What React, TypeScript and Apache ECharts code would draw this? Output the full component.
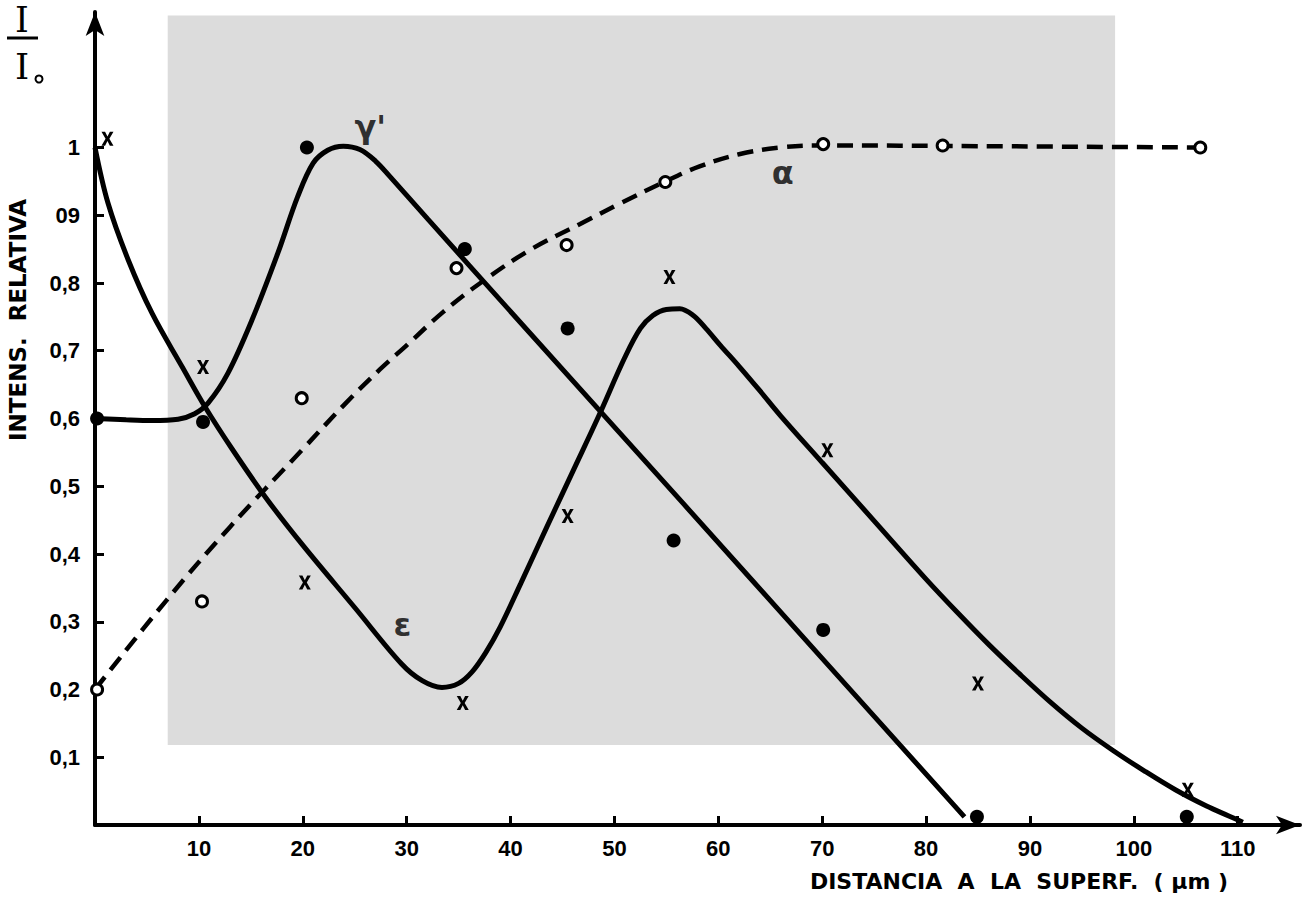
import React, { useEffect, useRef } from 'react';
import * as echarts from 'echarts';

// ---- tick values / labels ----
const xTicks = [10, 20, 30, 40, 50, 60, 70, 80, 90, 100, 110];
const xTickLabels = ['10', '20', '30', '40', '50', '60', '70', '80', '90', '100', '110'];
const yTicks = [0.1, 0.2, 0.3, 0.4, 0.5, 0.6, 0.7, 0.8, 0.9, 1.0];
const yTickLabels = ['0,1', '0,2', '0,3', '0,4', '0,5', '0,6', '0,7', '0,8', '09', '1'];

// ---- fitted curves ----
const epsCurve: number[][] = [
  [0, 1.0], [1.25, 0.918], [3.2, 0.834], [5.5, 0.755], [8.4, 0.676], [10.6, 0.617],
  [13.2, 0.555], [16.5, 0.482], [20.0, 0.413], [25.0, 0.321], [29.5, 0.238],
  [31.5, 0.213], [33.4, 0.203], [35.0, 0.209], [36.3, 0.226], [37.6, 0.254],
  [39.0, 0.292], [41.0, 0.357], [43.5, 0.44], [46.0, 0.522], [48.5, 0.604],
  [51.0, 0.69], [52.5, 0.733], [53.7, 0.752], [55.0, 0.761], [56.3, 0.762],
  [57.6, 0.752], [58.8, 0.733], [60.2, 0.708], [62.0, 0.677], [64.0, 0.641],
  [66.0, 0.604], [70.0, 0.535], [75.0, 0.449], [80.0, 0.363], [83.0, 0.314],
  [86.0, 0.267], [89.0, 0.223], [92.0, 0.181], [95.0, 0.143], [98.0, 0.11],
  [101.0, 0.08], [104.0, 0.052], [107.0, 0.028], [109.2, 0.013], [110.5, 0.004],
];
const gammaCurve: number[][] = [
  [0, 0.6], [3.0, 0.598], [5.5, 0.597], [8.0, 0.599], [9.6, 0.607], [10.9, 0.623],
  [12.8, 0.667], [15.1, 0.745], [17.6, 0.844], [19.5, 0.927], [21.0, 0.977],
  [22.4, 0.996], [23.9, 1.002], [25.5, 0.997], [27.0, 0.98], [28.4, 0.957],
  [32.0, 0.895], [40.0, 0.758], [56.6, 0.475], [70.0, 0.246], [83.7, 0.012],
];
const alphaCurve: number[][] = [
  [0, 0.2], [6.9, 0.332], [13.0, 0.44], [19.9, 0.553], [24.1, 0.622], [27.4, 0.672],
  [30.0, 0.708], [33.5, 0.757], [37.1, 0.8], [42.0, 0.85], [46.7, 0.887],
  [50.5, 0.917], [54.9, 0.95], [58.2, 0.972], [62.0, 0.99], [66.0, 1.0],
  [70.0, 1.003], [85.0, 1.002], [106.4, 1.0],
];

// ---- measured points ----
const gammaPoints: number[][] = [
  [0.2, 0.6], [10.4, 0.595], [20.4, 1.0], [35.6, 0.85], [45.5, 0.733],
  [55.7, 0.42], [70.1, 0.288], [84.9, 0.012], [105.1, 0.012],
];
const epsPoints: number[][] = [
  [1.2, 1.013], [10.4, 0.676], [20.2, 0.358], [35.4, 0.18], [45.5, 0.456],
  [55.3, 0.809], [70.5, 0.553], [85.0, 0.209], [105.2, 0.052],
];
const alphaPoints: number[][] = [
  [0.2, 0.2], [10.3, 0.33], [19.9, 0.63], [34.8, 0.822], [45.4, 0.856],
  [54.9, 0.949], [70.1, 1.005], [81.6, 1.003], [106.4, 1.0],
];

// ---- curve labels ----
const curveLabels = [
  { name: "γ'", value: [26.5, 1.03] },
  { name: 'ε', value: [29.6, 0.295] },
  { name: 'α', value: [66.2, 0.963] },
];

const crossPath =
  'path://M0,0 L3,0 L5,3.4 L7,0 L10,0 L6.6,5 L10,10 L7,10 L5,6.6 L3,10 L0,10 L3.4,5 Z';

const FONT = '"DejaVu Sans", "Liberation Sans", sans-serif';
const TICK_FONT = '"Liberation Sans", Arial, sans-serif';
const SERIF = '"DejaVu Serif", "Liberation Serif", serif';

export default function App() {
  const ref = useRef<HTMLDivElement>(null);

  useEffect(() => {
    if (!ref.current) return;
    const chart = echarts.init(ref.current, null, { renderer: 'svg' });

    const option: any = {
      animation: false,
      backgroundColor: '#ffffff',
      grid: { left: 95, right: 14, top: 12, bottom: 73, containLabel: false },
      xAxis: {
        type: 'value',
        min: 0,
        max: 116,
        splitLine: { show: false },
        axisLine: {
          show: true,
          symbol: ['none', 'arrow'],
          symbolSize: [14, 24],
          lineStyle: { color: '#000', width: 4 },
        },
        axisTick: {
          show: true,
          inside: true,
          length: 9,
          customValues: xTicks,
          lineStyle: { color: '#000', width: 3 },
        },
        axisLabel: {
          show: true,
          customValues: xTicks,
          formatter: (v: number) => {
            const i = xTicks.findIndex((t) => Math.abs(t - v) < 1e-6);
            return i >= 0 ? xTickLabels[i] : '';
          },
          color: '#000',
          fontSize: 22,
          fontWeight: 'bold',
          fontFamily: TICK_FONT,
          margin: 12,
        },
      },
      yAxis: {
        type: 'value',
        min: 0,
        max: 1.2,
        splitLine: { show: false },
        axisLine: {
          show: true,
          symbol: ['none', 'arrow'],
          symbolSize: [14, 24],
          lineStyle: { color: '#000', width: 4 },
        },
        axisTick: {
          show: true,
          inside: true,
          length: 9,
          customValues: yTicks,
          lineStyle: { color: '#000', width: 3 },
        },
        axisLabel: {
          show: true,
          customValues: yTicks,
          formatter: (v: number) => {
            const i = yTicks.findIndex((t) => Math.abs(t - v) < 1e-6);
            return i >= 0 ? yTickLabels[i] : '';
          },
          color: '#000',
          fontSize: 22,
          fontWeight: 'bold',
          fontFamily: TICK_FONT,
          margin: 15,
        },
      },
      graphic: [
        {
          type: 'text',
          x: 22,
          y: 2,
          style: {
            text: 'I',
            fontSize: 35,
            fontFamily: SERIF,
            fill: '#000',
            align: 'center',
            verticalAlign: 'top',
          },
        },
        {
          type: 'line',
          shape: { x1: 7, y1: 38, x2: 38, y2: 38 },
          style: { stroke: '#000', lineWidth: 3 },
        },
        {
          type: 'text',
          x: 22,
          y: 66,
          style: {
            text: 'I',
            fontSize: 36,
            fontFamily: SERIF,
            fill: '#000',
            align: 'center',
            verticalAlign: 'middle',
          },
        },
        {
          type: 'circle',
          shape: { cx: 39, cy: 79, r: 3.5 },
          style: { fill: 'none', stroke: '#000', lineWidth: 2 },
        },
        {
          type: 'text',
          x: 18,
          y: 320,
          rotation: Math.PI / 2,
          style: {
            text: 'INTENS.  RELATIVA',
            fontSize: 23,
            fontWeight: 'bold',
            fontFamily: FONT,
            fill: '#000',
            align: 'center',
            verticalAlign: 'middle',
          },
        },
        {
          type: 'text',
          x: 1019,
          y: 881,
          style: {
            text: 'DISTANCIA  A  LA  SUPERF.  ( μm )',
            fontSize: 22,
            fontWeight: 'bold',
            fontFamily: FONT,
            fill: '#000',
            align: 'center',
            verticalAlign: 'middle',
          },
        },
      ],
      series: [
        {
          name: 'alpha',
          type: 'line',
          data: alphaCurve,
          smooth: 0.4,
          showSymbol: false,
          symbol: 'none',
          lineStyle: { color: '#000', width: 4.5, type: [16, 9] },
          z: 3,
          markArea: {
            silent: true,
            itemStyle: { color: '#dcdcdc' },
            data: [[{ coord: [7.0, 0.118] }, { coord: [98.2, 1.195] }]],
          },
        },
        {
          name: 'gamma',
          type: 'line',
          data: gammaCurve,
          smooth: 0.35,
          showSymbol: false,
          symbol: 'none',
          lineStyle: { color: '#000', width: 5 },
          z: 3,
        },
        {
          name: 'eps',
          type: 'line',
          data: epsCurve,
          smooth: 0.35,
          showSymbol: false,
          symbol: 'none',
          lineStyle: { color: '#000', width: 5 },
          z: 3,
        },
        {
          name: 'gammaPts',
          type: 'scatter',
          data: gammaPoints,
          symbol: 'circle',
          symbolSize: 14,
          itemStyle: { color: '#000', opacity: 1 },
          z: 5,
        },
        {
          name: 'alphaPts',
          type: 'scatter',
          data: alphaPoints,
          symbol: 'circle',
          symbolSize: 11,
          itemStyle: { color: '#fff', borderColor: '#000', borderWidth: 3, opacity: 1 },
          z: 5,
        },
        {
          name: 'epsPts',
          type: 'scatter',
          data: epsPoints,
          symbol: crossPath,
          symbolSize: [12, 14],
          itemStyle: { color: '#000', opacity: 1 },
          z: 5,
        },
        {
          name: 'labels',
          type: 'scatter',
          data: curveLabels,
          symbolSize: 0,
          label: {
            show: true,
            position: 'inside',
            formatter: '{b}',
            color: '#000',
            fontSize: 32,
            fontWeight: 'bold',
            fontFamily: FONT,
          },
          z: 6,
        },
      ],
    };

    chart.setOption(option);
    return () => chart.dispose();
  }, []);

  return (
    <div
      ref={ref}
      style={{ position: 'fixed', left: 0, top: 0, width: 1314, height: 898 }}
    />
  );
}
